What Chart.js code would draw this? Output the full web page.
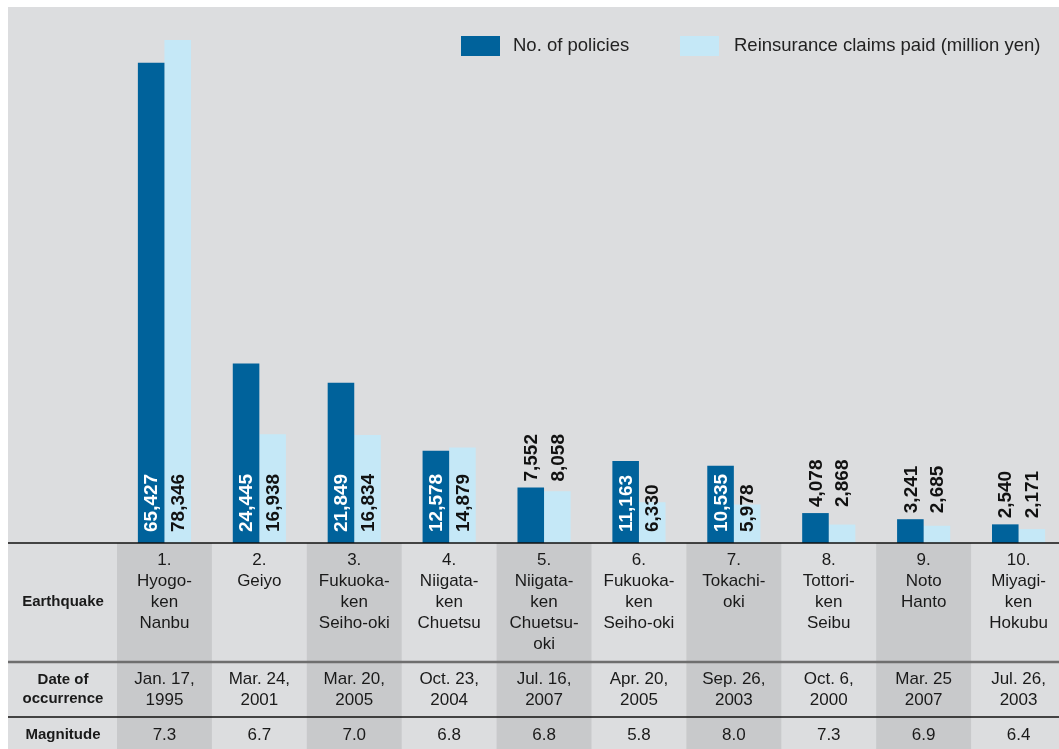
<!DOCTYPE html>
<html>
<head>
<meta charset="utf-8">
<script src="https://cdn.jsdelivr.net/npm/chart.js@4.4.1/dist/chart.umd.min.js"></script>
<style>
  html, body { margin: 0; padding: 0; background: #fff; overflow: hidden; }
  #wrap { width: 1059px; height: 749px; overflow: hidden; }
</style>
</head>
<body>
<div id="wrap"><canvas id="chart" width="1066" height="749"></canvas></div>
<script>
// earthquake names, one entry per column (lines as shown in the table)
const earthquakes = [
  ['1.', 'Hyogo-', 'ken', 'Nanbu'],
  ['2.', 'Geiyo'],
  ['3.', 'Fukuoka-', 'ken', 'Seiho-oki'],
  ['4.', 'Niigata-', 'ken', 'Chuetsu'],
  ['5.', 'Niigata-', 'ken', 'Chuetsu-', 'oki'],
  ['6.', 'Fukuoka-', 'ken', 'Seiho-oki'],
  ['7.', 'Tokachi-', 'oki'],
  ['8.', 'Tottori-', 'ken', 'Seibu'],
  ['9.', 'Noto', 'Hanto'],
  ['10.', 'Miyagi-', 'ken', 'Hokubu']
];
const dates = [
  ['Jan. 17,', '1995'], ['Mar. 24,', '2001'], ['Mar. 20,', '2005'], ['Oct. 23,', '2004'],
  ['Jul. 16,', '2007'], ['Apr. 20,', '2005'], ['Sep. 26,', '2003'], ['Oct. 6,', '2000'],
  ['Mar. 25', '2007'], ['Jul. 26,', '2003']
];
const magnitudes = ['7.3', '6.7', '7.0', '6.8', '6.8', '5.8', '8.0', '7.3', '6.9', '6.4'];
const policies = [65427, 24445, 21849, 12578, 7552, 11163, 10535, 4078, 3241, 2540];
const claims = [78346, 16938, 16834, 14879, 8058, 6330, 5978, 2868, 2685, 2171];

const rowTitles = [['Earthquake'], ['Date of', 'occurrence'], ['Magnitude']];

const BLUE = '#00629b';
const LIGHT = '#c5e8f7';
const BG = '#dcdddf';
const SHADE = '#c8c9cb';
const FONT = '"Liberation Sans", Arial, sans-serif';

const fmt = v => v.toLocaleString('en-US');

// background, shaded table columns
const backdrop = {
  id: 'backdrop',
  beforeDraw(chart) {
    const ctx = chart.ctx, x = chart.scales.x, area = chart.chartArea;
    const w = (x.right - x.left) / earthquakes.length;
    ctx.save();
    ctx.fillStyle = '#fff';
    ctx.fillRect(0, 0, chart.width, chart.height);
    ctx.fillStyle = BG;
    ctx.fillRect(8, 7, chart.width - 8, chart.height - 7);
    ctx.fillStyle = SHADE;
    for (let i = 0; i < earthquakes.length; i += 2) {
      ctx.fillRect(x.left + i * w, area.bottom, w, chart.height - area.bottom);
    }
    ctx.restore();
  }
};

// rotated value labels
const valueLabels = {
  id: 'valueLabels',
  afterDatasetsDraw(chart) {
    const ctx = chart.ctx;
    const m0 = chart.getDatasetMeta(0), m1 = chart.getDatasetMeta(1);
    ctx.save();
    ctx.font = 'bold 19px ' + FONT;
    ctx.textAlign = 'left';
    ctx.textBaseline = 'middle';
    const put = (txt, x, y, color) => {
      ctx.save();
      ctx.translate(x, y);
      ctx.rotate(-Math.PI / 2);
      ctx.fillStyle = color;
      ctx.fillText(txt, 0, 1);
      ctx.restore();
    };
    for (let i = 0; i < policies.length; i++) {
      const a = m0.data[i], b = m1.data[i];
      if (a.base - a.y >= 70) {
        put(fmt(policies[i]), a.x, a.base - 11, '#fff');
        put(fmt(claims[i]), b.x, b.base - 11, '#111');
      } else {
        const top = Math.min(a.y, b.y) - 6;
        put(fmt(policies[i]), a.x, top, '#111');
        put(fmt(claims[i]), b.x, top, '#111');
      }
    }
    ctx.restore();
  }
};

// table under the bars + legend
const table = {
  id: 'table',
  afterDraw(chart) {
    const ctx = chart.ctx, x = chart.scales.x, area = chart.chartArea;
    ctx.save();
    ctx.textAlign = 'center';
    ctx.textBaseline = 'middle';
    ctx.fillStyle = '#1a1a1a';

    // row titles
    ctx.font = 'bold 15px ' + FONT;
    ctx.fillText(rowTitles[0][0], 63, 602);
    ctx.fillText(rowTitles[1][0], 63, 680);
    ctx.fillText(rowTitles[1][1], 63, 699);
    ctx.fillText(rowTitles[2][0], 63, 735);

    ctx.font = '17px ' + FONT;
    earthquakes.forEach((lines, i) => {
      const cx = x.getPixelForValue(i);
      lines.forEach((t, j) => ctx.fillText(t, cx, 560 + j * 21));
      dates[i].forEach((t, j) => ctx.fillText(t, cx, 679 + j * 21));
      ctx.fillText(magnitudes[i], cx, 735);
    });

    // rules
    ctx.strokeStyle = '#111';
    ctx.lineWidth = 1.5;
    ctx.beginPath();
    ctx.moveTo(8, area.bottom); ctx.lineTo(chart.width, area.bottom);
    ctx.moveTo(8, 717); ctx.lineTo(chart.width, 717);
    ctx.stroke();
    ctx.strokeStyle = '#6e6e6e';
    ctx.lineWidth = 2.5;
    ctx.beginPath();
    ctx.moveTo(8, 662); ctx.lineTo(chart.width, 662);
    ctx.stroke();

    // legend
    const items = [[461, 513], [680, 734]];
    ctx.textAlign = 'left';
    ctx.font = '18.5px ' + FONT;
    chart.data.datasets.forEach((ds, k) => {
      ctx.fillStyle = ds.backgroundColor;
      ctx.fillRect(items[k][0], 36, 39, 20);
      ctx.fillStyle = '#222';
      ctx.fillText(ds.label, items[k][1], 46);
    });
    ctx.restore();
  }
};

new Chart(document.getElementById('chart'), {
  type: 'bar',
  data: {
    labels: earthquakes,
    datasets: [
      { label: 'No. of policies', data: policies, backgroundColor: BLUE, yAxisID: 'y' },
      { label: 'Reinsurance claims paid (million yen)', data: claims, backgroundColor: LIGHT, yAxisID: 'y2' }
    ]
  },
  options: {
    responsive: false,
    animation: false,
    layout: { padding: { left: 117, right: 0, top: 30, bottom: 206 } },
    datasets: { bar: { categoryPercentage: 0.56, barPercentage: 1.0, borderWidth: 0 } },
    plugins: { legend: { display: false }, tooltip: { enabled: false } },
    scales: {
      x: { display: false },
      y: { display: false, min: 0, max: 69900 },
      y2: { display: false, min: 0, max: 79900 }
    }
  },
  plugins: [backdrop, valueLabels, table]
});
</script>
</body>
</html>
